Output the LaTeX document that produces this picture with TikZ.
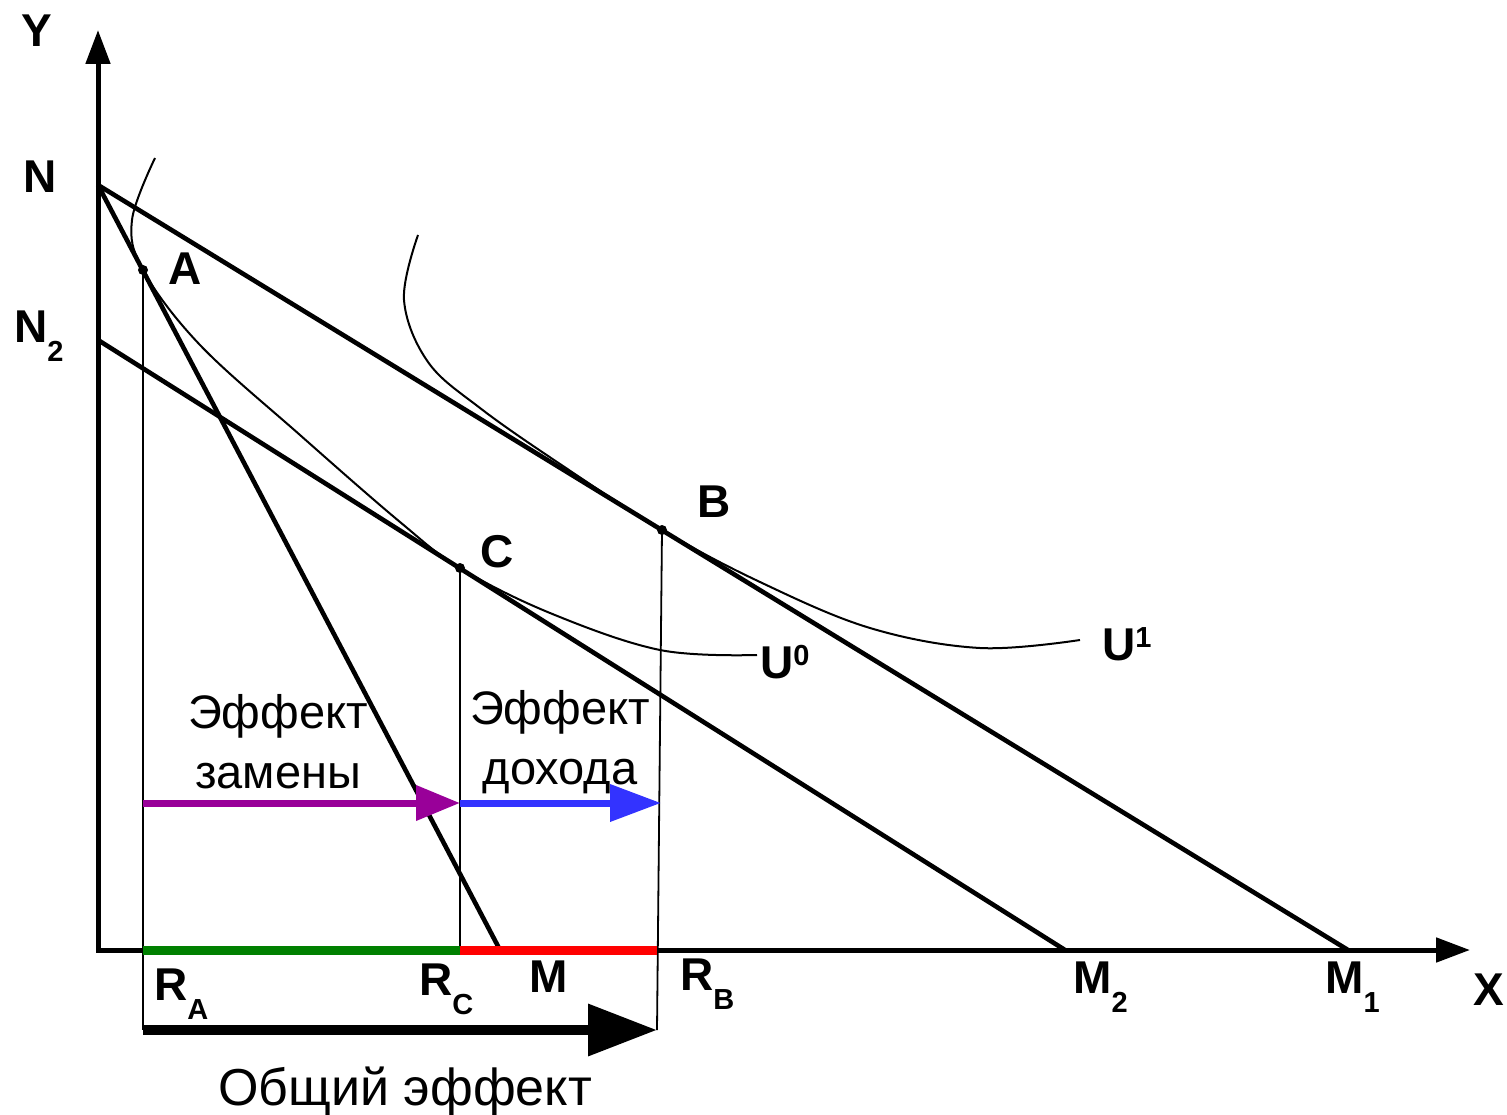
\documentclass[tikz,border=0pt]{standalone}
\usepackage{fontspec}
\setmainfont{Liberation Sans}
\usetikzlibrary{arrows.meta}
\definecolor{effsub}{HTML}{990099}
\definecolor{effinc}{HTML}{3333FF}
\definecolor{effgreen}{HTML}{008000}
\definecolor{effred}{HTML}{FF0000}
\newcommand\lo[2]{#1\raisebox{-19pt}{\fontsize{29}{29}\selectfont #2}}
\newcommand\hi[2]{#1\raisebox{13pt}{\fontsize{29}{29}\selectfont #2}}
\begin{document}
\begin{tikzpicture}[x=1pt,y=-1pt,
  ax/.style={line width=5pt,-{Triangle[length=34pt,width=24pt]}},
  bl/.style={line width=4.6pt},
  ic/.style={line width=2pt},
  drop/.style={line width=1.8pt},
  pnt/.style={circle,fill,inner sep=0pt,minimum size=10pt},
  lbl/.style={inner sep=0pt,anchor=base west,font=\fontsize{46}{46}\selectfont\bfseries},
  txt/.style={inner sep=0pt,align=center,font=\fontsize{47}{60}\selectfont}
]
\useasboundingbox (0,0) rectangle (1507,1115);

% axes
\coordinate (O) at (98,950);
\coordinate (O2) at (96,950);
\coordinate (Yend) at (98,30);
\coordinate (Xend) at (1470,950);
\draw[ax] (O) -- (Yend);
\draw[ax] (O2) -- (Xend);

% budget lines
\coordinate (N) at (98,185);
\coordinate (N2) at (98,340);
\coordinate (M) at (500,950);
\coordinate (M2) at (1065,950);
\coordinate (M1) at (1348,950);
\draw[bl] (N) -- (M);
\draw[bl] (N) -- (M1);
\draw[bl] (N2) -- (M2);

% indifference curves
\draw[ic] plot[smooth,tension=0.6] coordinates {(155,158) (132,220) (143,270) (200,345) (300,435) (400,522) (460,568) (550,613) (660,650) (757,655)};
\draw[ic] plot[smooth,tension=0.6] coordinates {(418,235) (404,300) (428,362) (480,408) (560,464) (662,530) (760,582) (870,628) (980,648) (1080,640)};

% optimum points
\node[pnt] (A) at (143,270) {};
\node[pnt] (B) at (662,530) {};
\node[pnt] (C) at (460,568) {};

% drop lines
\coordinate (RAb) at (143,1030);
\coordinate (RCb) at (460,950);
\coordinate (RBb) at (657,1030);
\draw[drop] (A.center) -- (RAb);
\draw[drop] (C.center) -- (RCb);
\draw[drop] (B.center) -- (RBb);

% effects on the axis
\coordinate (RA) at (143,950);
\coordinate (RC) at (460,950);
\coordinate (RB) at (657,950);
\draw[line width=9pt,effgreen] (RA) -- (RC);
\draw[line width=9pt,effred] (RC) -- (RB);

\coordinate (sA) at (143,803);
\coordinate (sC) at (460,803);
\coordinate (sB) at (661,803);
\draw[line width=7pt,effsub,-{Triangle[length=44pt,width=34pt]}] (sA) -- (sC);
\draw[line width=7pt,effinc,-{Triangle[length=51pt,width=36pt]}] (sC) -- (sB);
\draw[line width=10pt,-{Triangle[length=69pt,width=50pt]}] (RAb) -- (RBb);

% labels
\node[lbl] (Ylbl) at (21,47) {Y};
\node[lbl] (Nlbl) at (23,193) {N};
\node[lbl] (N2lbl) at (14,342) {\lo{N}{2}};
\node[lbl] (Albl) at (168,285) {A};
\node[lbl] (Blbl) at (697,517) {B};
\node[lbl] (Clbl) at (480,567) {C};
\node[lbl] (U0lbl) at (760,678) {\hi{U}{0}};
\node[lbl] (U1lbl) at (1102,660) {\hi{U}{1}};
\node[lbl] (RAlbl) at (154,1000) {\lo{R}{A}};
\node[lbl] (RClbl) at (419,995) {\lo{R}{C}};
\node[lbl] (Mlbl) at (529,992) {M};
\node[lbl] (RBlbl) at (680,990) {\lo{R}{B}};
\node[lbl] (M2lbl) at (1073,993) {\lo{M}{2}};
\node[lbl] (M1lbl) at (1325,993) {\lo{M}{1}};
\node[lbl] (Xlbl) at (1473,1005) {X};

\node[txt] (subst) at (278,742) {Эффект\\замены};
\node[txt] (income) at (560,742) {Эффект\\дохода};
\node[txt,anchor=base,font=\fontsize{52}{60}\selectfont] (total) at (405,1105) {Общий эффект};
\end{tikzpicture}
\end{document}
